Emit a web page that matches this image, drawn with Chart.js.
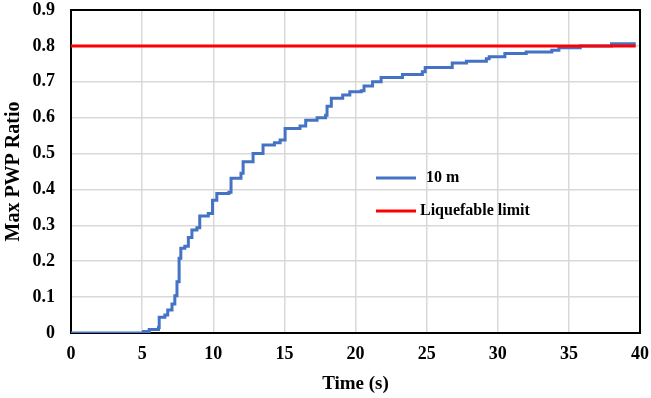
<!DOCTYPE html>
<html>
<head>
<meta charset="utf-8">
<script src="https://cdn.jsdelivr.net/npm/chart.js@4/dist/chart.umd.min.js"></script>
<style>
    html, body { margin: 0; padding: 0; background: #fff; }
    #wrap { position: relative; width: 651px; height: 398px; }
</style>
</head>
<body>
<div id="wrap"><canvas id="pwpChart" width="651" height="398"></canvas></div>
<script>
// time (s) where the max PWP ratio steps up, and the ratio reached there
const timeSteps = [0, 5.1, 5.5, 6.15, 6.2, 6.6, 6.8, 7.1, 7.3, 7.45, 7.6, 7.72, 8.0, 8.25, 8.5, 8.85,
    9.05, 9.65, 9.95, 10.25, 11.1, 11.25, 11.95, 12.1, 12.8, 13.5, 14.3, 14.7, 15.05, 16.1, 16.5,
    17.3, 17.9, 18.0, 18.3, 19.1, 19.6, 20.4, 20.6, 21.2, 21.8, 23.3, 24.7, 24.9, 26.8, 27.8,
    29.2, 29.4, 30.5, 32.0, 33.8, 34.3, 35.8, 38.0, 39.7];
const pwpRatio10m = [0, 0.004, 0.01, 0.015, 0.044, 0.05, 0.064, 0.081, 0.104, 0.143, 0.208, 0.236, 0.242, 0.266, 0.287, 0.293,
    0.326, 0.333, 0.37, 0.389, 0.392, 0.431, 0.445, 0.477, 0.5, 0.524, 0.53, 0.538, 0.57, 0.577, 0.593,
    0.6, 0.607, 0.632, 0.654, 0.663, 0.672, 0.675, 0.688, 0.7, 0.712, 0.72, 0.728, 0.74, 0.752, 0.757,
    0.764, 0.77, 0.779, 0.783, 0.788, 0.795, 0.8, 0.806, 0.806];

const limitTimes = [0, 39.7];
const limitValues = [0.8, 0.8];

const xTicks = [0, 5, 10, 15, 20, 25, 30, 35, 40];
const yTicks = [0, 0.1, 0.2, 0.3, 0.4, 0.5, 0.6, 0.7, 0.8, 0.9];

const serif = "'Liberation Serif', 'Times New Roman', serif";

// black frame round the plot, drawn under the lines
const framePlugin = {
    id: 'frame',
    beforeDatasetsDraw(chart) {
        const { ctx, chartArea: a } = chart;
        ctx.save();
        ctx.strokeStyle = '#000';
        ctx.lineWidth = 2;
        ctx.strokeRect(a.left, a.top, a.right - a.left, a.bottom - a.top);
        ctx.restore();
    }
};

// legend sits inside the plot, like the Excel one
const insideLegend = {
    id: 'insideLegend',
    afterDraw(chart) {
        const ctx = chart.ctx;
        const rows = [
            { y: 178, textX: 426 },
            { y: 211, textX: 420 }
        ];
        ctx.save();
        ctx.font = "bold 16px " + serif;
        ctx.textBaseline = 'middle';
        chart.data.datasets.forEach((ds, i) => {
            const r = rows[i];
            ctx.strokeStyle = ds.borderColor;
            ctx.lineWidth = 3;
            ctx.beginPath();
            ctx.moveTo(376, r.y);
            ctx.lineTo(416, r.y);
            ctx.stroke();
            ctx.fillStyle = '#000';
            ctx.fillText(ds.label, r.textX, r.y);
        });
        ctx.restore();
    }
};

// fixed axis sizes so the plot area lands where the Excel one is
function noPad(s) {
    s.paddingTop = 0;
    s.paddingBottom = 0;
    s.paddingLeft = 0;
    s.paddingRight = 0;
}

const ctx = document.getElementById('pwpChart').getContext('2d');
new Chart(ctx, {
    type: 'line',
    data: {
        datasets: [
            {
                label: '10 m',
                data: timeSteps.map((t, i) => ({ x: t, y: pwpRatio10m[i] })),
                borderColor: '#4472C4',
                borderWidth: 3,
                pointRadius: 0,
                stepped: true,
                order: 1
            },
            {
                label: 'Liquefable limit',
                data: limitTimes.map((t, i) => ({ x: t, y: limitValues[i] })),
                borderColor: '#FF0000',
                borderWidth: 3,
                pointRadius: 0,
                order: 0
            }
        ]
    },
    options: {
        responsive: false,
        animation: false,
        layout: { padding: { top: 10, right: 11, left: 0, bottom: 0 } },
        plugins: {
            legend: { display: false },
            tooltip: { enabled: false }
        },
        scales: {
            x: {
                type: 'linear',
                min: 0,
                max: 40,
                afterBuildTicks: s => { s.ticks = xTicks.map(v => ({ value: v })); },
                afterFit: s => { s.height = 65; noPad(s); },
                grid: { color: '#d9d9d9', lineWidth: 1.5, drawTicks: false },
                border: { display: false },
                ticks: {
                    padding: 11,
                    color: '#000',
                    font: { family: serif, size: 18, weight: 'bold' }
                },
                title: {
                    display: true,
                    text: 'Time (s)',
                    color: '#000',
                    padding: { top: 4, bottom: 3 },
                    font: { family: serif, size: 19, weight: 'bold' }
                }
            },
            y: {
                type: 'linear',
                min: 0,
                max: 0.9,
                afterBuildTicks: s => { s.ticks = yTicks.map(v => ({ value: v })); },
                afterFit: s => { s.width = 71; noPad(s); },
                grid: { color: '#d9d9d9', lineWidth: 1.5, drawTicks: false },
                border: { display: false },
                ticks: {
                    padding: 16,
                    color: '#000',
                    font: { family: serif, size: 18, weight: 'bold' },
                    callback: v => String(Math.round(v * 10) / 10)
                },
                title: {
                    display: true,
                    text: 'Max PWP Ratio',
                    color: '#000',
                    padding: { top: 2, bottom: 4 },
                    font: { family: serif, size: 20, weight: 'bold' }
                }
            }
        }
    },
    plugins: [framePlugin, insideLegend]
});
</script>
</body>
</html>
